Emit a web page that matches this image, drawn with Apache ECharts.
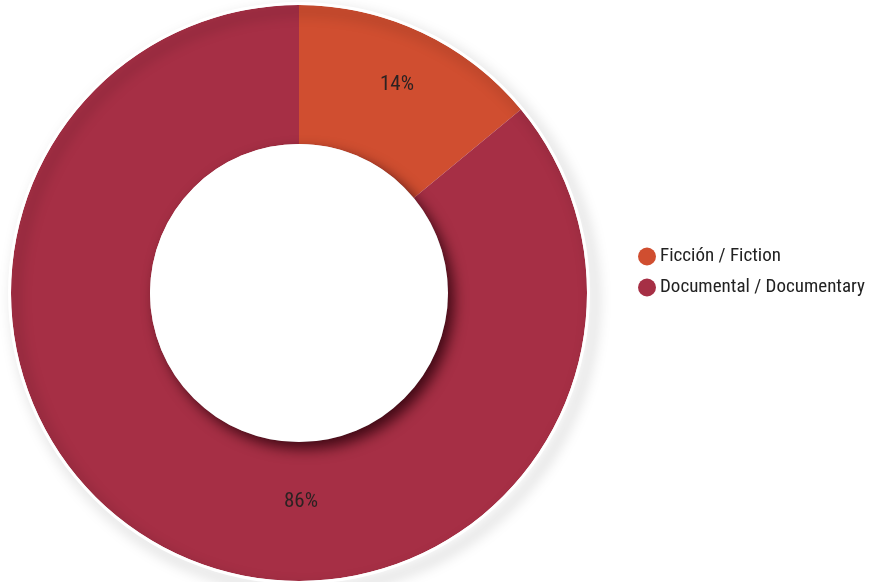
<!DOCTYPE html>
<html>
<head>
<meta charset="utf-8">
<script src="https://cdn.jsdelivr.net/npm/echarts@6/dist/echarts.min.js"></script>
<style>
  html, body { margin: 0; padding: 0; background: #ffffff; }
  #chart { width: 874px; height: 582px; }
</style>
</head>
<body>
<div id="chart"></div>
<script>
// Share of productions by genre
const categories = ['Ficción / Fiction', 'Documental / Documentary'];
const shares = [14, 86];
const colors = ['#D04E30', '#A62F45'];

const CX = 299, CY = 293, R_IN = 149, R_OUT = 288;
const FONT = "'Roboto Condensed', 'Liberation Sans Narrow', Roboto, sans-serif";

const total = shares.reduce((a, b) => a + b, 0);

const chart = echarts.init(document.getElementById('chart'));
chart.setOption({
  backgroundColor: '#ffffff',
  animation: false,
  legend: {
    orient: 'vertical',
    left: 638,
    top: 247,
    padding: 0,
    itemWidth: 18,
    itemHeight: 18,
    itemGap: 12,
    icon: 'circle',
    data: categories,
    textStyle: { fontFamily: FONT, fontSize: 19, lineHeight: 18, color: '#222222', padding: [0, 0, 0, -1] }
  },
  series: [
    {
      // main donut
      type: 'pie',
      center: [CX, CY],
      radius: [R_IN, R_OUT],
      startAngle: 90,
      clockwise: true,
      silent: true,
      data: categories.map((name, i) => ({ name, value: shares[i], itemStyle: { color: colors[i] } })),
      label: {
        show: true,
        position: 'inside',
        formatter: '{d}%',
        fontFamily: FONT,
        fontSize: 21,
        color: '#2b2222'
      },
      labelLine: { show: false },
      labelLayout: function (p) {
        let acc = 0;
        for (let k = 0; k < p.dataIndex; k++) acc += shares[k];
        if (p.dataIndex === 0) {
          const mid = (acc + shares[0] / 2) / total * 2 * Math.PI;
          return { x: CX + 230 * Math.sin(mid), y: CY - 230 * Math.cos(mid) };
        }
        return { x: CX + 2, y: CY + 209 };
      },
      z: 2
    },
    {
      // thin white rim; its offset shadow shades the ring edge and falls outside
      type: 'pie',
      center: [CX, CY],
      radius: [R_OUT, R_OUT + 3],
      silent: true,
      label: { show: false },
      labelLine: { show: false },
      data: [{ value: 1, itemStyle: {
        color: '#ffffff',
        shadowColor: 'rgba(0,0,0,0.4)',
        shadowBlur: 14,
        shadowOffsetX: 6,
        shadowOffsetY: 7
      } }],
      z: 3
    },
    {
      // raised white centre disk
      type: 'pie',
      center: [CX, CY],
      radius: [0, R_IN],
      silent: true,
      label: { show: false },
      labelLine: { show: false },
      data: [{ value: 1, itemStyle: {
        color: '#ffffff',
        shadowColor: 'rgba(40,0,10,0.8)',
        shadowBlur: 14,
        shadowOffsetX: 6,
        shadowOffsetY: 7
      } }],
      z: 4
    }
  ]
});
</script>
</body>
</html>
